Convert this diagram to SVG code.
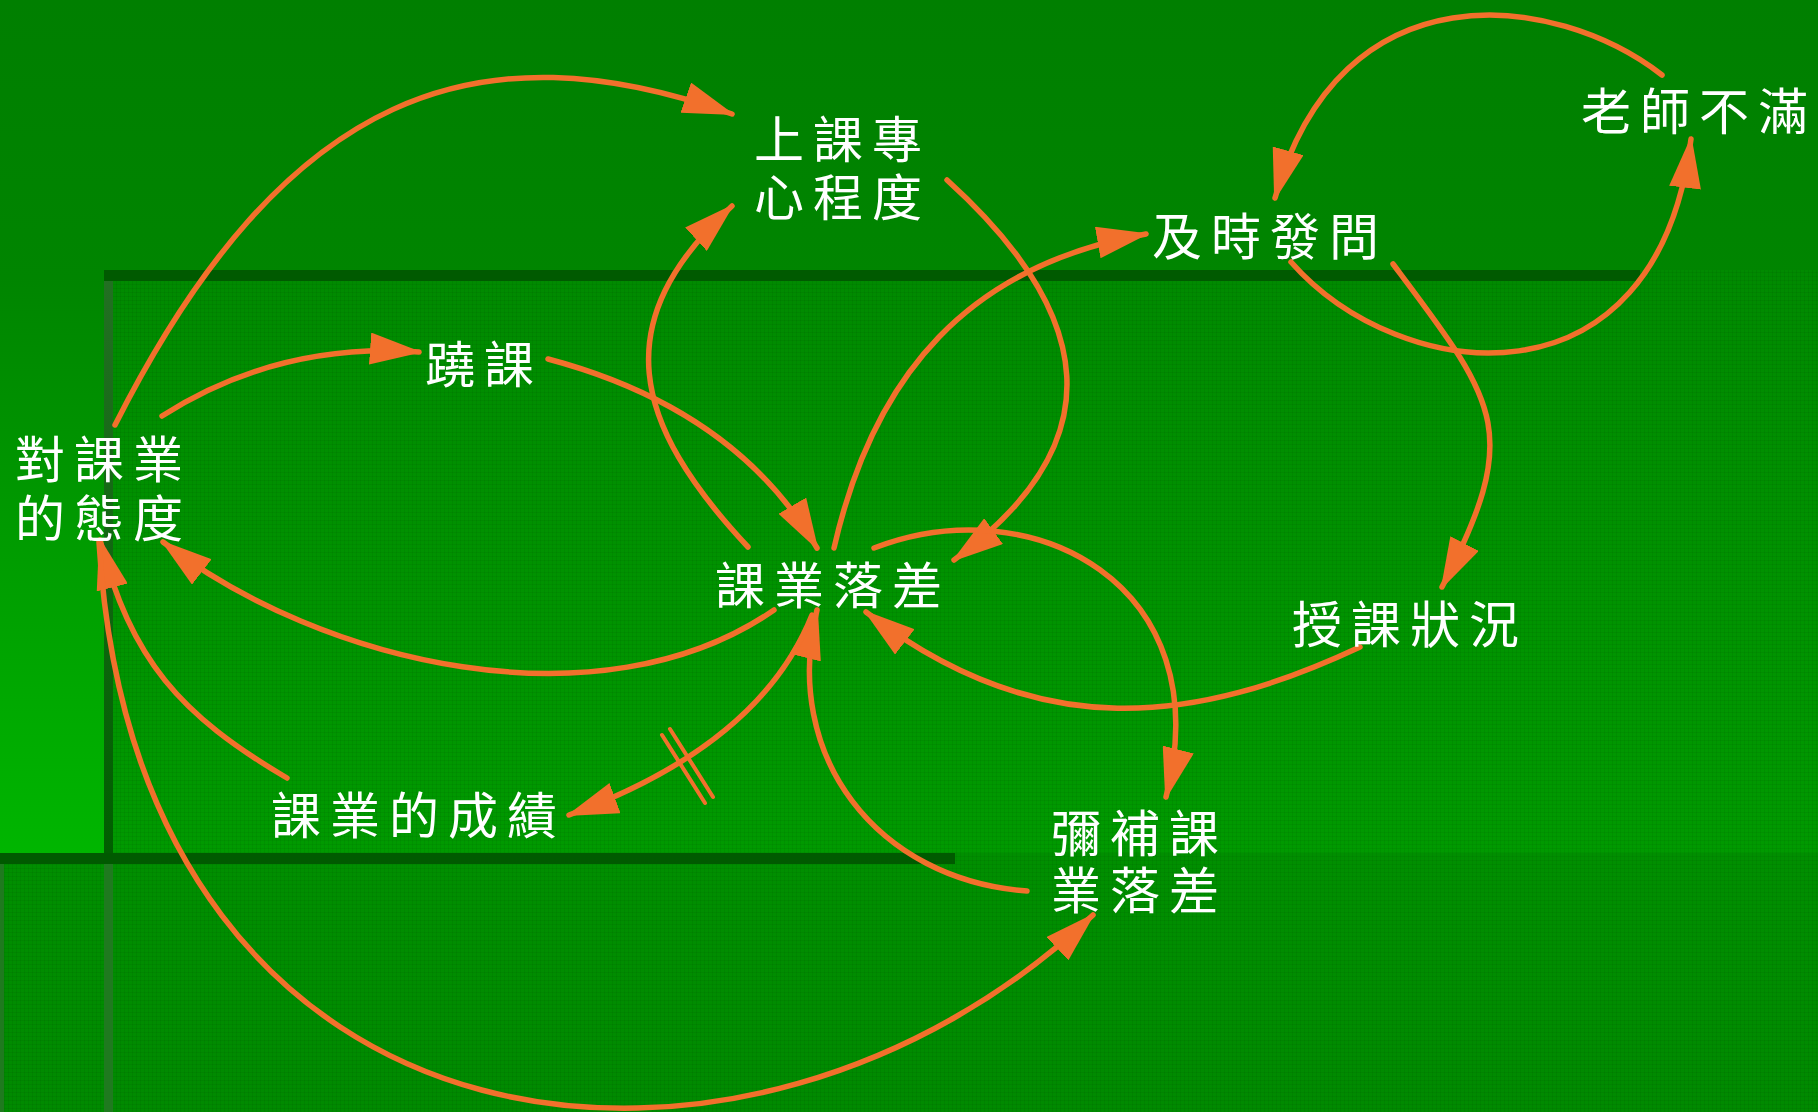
<svg xmlns="http://www.w3.org/2000/svg" width="1818" height="1112" viewBox="0 0 1818 1112">
  <style>
    .lbl { font-family: "Noto Sans CJK TC", "Noto Sans CJK SC", sans-serif; font-size: 50px; fill: #ffffff; letter-spacing: 9px; dominant-baseline: central; }
    .arc { fill: none; stroke: #F2702C; stroke-width: 5.5; stroke-linecap: round; marker-end: url(#ah); }
    .tick { fill: none; stroke: #F2702C; stroke-width: 4; stroke-linecap: round; }
  </style>
  <defs>
    <linearGradient id="bgG" x1="0" y1="0" x2="0" y2="1">
      <stop offset="0" stop-color="#007f00"/>
      <stop offset="0.25" stop-color="#008500"/>
      <stop offset="0.77" stop-color="#00b600"/>
      <stop offset="1" stop-color="#00b600"/>
    </linearGradient>
    <linearGradient id="p1G" x1="0" y1="0" x2="0" y2="1">
      <stop offset="0" stop-color="#008a00"/>
      <stop offset="1" stop-color="#009a00"/>
    </linearGradient>
    <linearGradient id="p2G" x1="0" y1="0" x2="0" y2="1">
      <stop offset="0" stop-color="#008f00"/>
      <stop offset="1" stop-color="#008a00"/>
    </linearGradient>
    <linearGradient id="edgeG" x1="0" y1="0" x2="0" y2="1">
      <stop offset="0" stop-color="#237023"/>
      <stop offset="1" stop-color="#005e00"/>
    </linearGradient>
    <pattern id="tex" width="4" height="4" patternUnits="userSpaceOnUse">
      <rect x="0" y="0" width="4" height="1" fill="#000" fill-opacity="0.05"/>
      <rect x="0" y="0" width="1" height="4" fill="#000" fill-opacity="0.05"/>
    </pattern>
    <marker id="ah" markerUnits="userSpaceOnUse" markerWidth="52" markerHeight="32" viewBox="0 0 52 32" refX="49" refY="16" orient="auto">
      <path d="M0,0 L52,16 L0,32 z" fill="#F2702C"/>
    </marker>
  </defs>

  <g id="background">
    <rect x="0" y="0" width="1818" height="1112" fill="url(#bgG)"/>
    <rect x="104" y="270" width="1714" height="594" fill="url(#p1G)"/>
    <rect x="104" y="270" width="1714" height="594" fill="url(#tex)"/>
    <rect x="0" y="853" width="1818" height="259" fill="url(#p2G)"/>
    <rect x="0" y="853" width="1818" height="259" fill="url(#tex)"/>
    <rect x="104" y="270" width="9" height="583" fill="url(#edgeG)"/>
    <rect x="104" y="864" width="9" height="248" fill="#1f7a1f"/>
    <rect x="0" y="864" width="4" height="248" fill="#1f7a1f"/>
    <rect x="104" y="270" width="1536" height="11" fill="#005a00"/>
    <rect x="0" y="853" width="955" height="11" fill="#005a00"/>
  </g>

  <g id="connectors">
    <path id="c-attitude-focus" class="arc" d="M115,425 C286,87 480,25 732,114"/>
    <path id="c-attitude-skip" class="arc" d="M162,416 Q278,342 419,352"/>
    <path id="c-skip-gap" class="arc" d="M548,359 Q736,409 817,548"/>
    <path id="c-gap-focus" class="arc" d="M748,547 C632,423 606,322 732,206"/>
    <path id="c-focus-gap" class="arc" d="M947,180 C1095,314 1116,442 954,560"/>
    <path id="c-gap-ask" class="arc" d="M834,548 C874,373 970,265 1146,234"/>
    <path id="c-ask-teacher" class="arc" d="M1291,262 C1400,386 1657,416 1691,139"/>
    <path id="c-teacher-ask" class="arc" d="M1662,75 C1555,-8 1340,-35 1275,198"/>
    <path id="c-ask-teaching" class="arc" d="M1393,264 C1498,404 1523,431 1442,587"/>
    <path id="c-teaching-gap" class="arc" d="M1360,647 C1198,723 1040,746 866,612"/>
    <path id="c-gap-attitude" class="arc" d="M774,610 C600,730 321,664 163,542"/>
    <path id="c-grade-attitude" class="arc" d="M287,778 C180,715 131,660 100,540"/>
    <path id="c-attitude-remedy" class="arc" d="M99,542 C137,1182 750,1239 1093,915"/>
    <path id="c-remedy-gap" class="arc" d="M1027,891 C877,880 781,756 817,610"/>
    <path id="c-gap-remedy" class="arc" d="M874,548 C1032,487 1221,584 1166,797"/>
    <path id="c-gap-grade" class="arc" d="M812,615 Q760,745 569,815"/>
    <g id="delay-mark">
      <line class="tick" x1="662" y1="735" x2="705" y2="803"/>
      <line class="tick" x1="670" y1="729" x2="713" y2="797"/>
    </g>
  </g>

  <g id="node-focus"><text class="lbl"><tspan x="754" y="136">上課專</tspan><tspan x="754" y="194">心程度</tspan></text></g>
  <g id="node-ask"><text class="lbl" x="1152" y="233">及時發問</text></g>
  <g id="node-teacher"><text class="lbl" x="1581" y="108">老師不滿</text></g>
  <g id="node-skip"><text class="lbl" x="425" y="361">蹺課</text></g>
  <g id="node-attitude"><text class="lbl"><tspan x="15" y="456">對課業</tspan><tspan x="15" y="515">的態度</tspan></text></g>
  <g id="node-gap"><text class="lbl" x="715" y="582">課業落差</text></g>
  <g id="node-teaching"><text class="lbl" x="1292" y="621">授課狀況</text></g>
  <g id="node-remedy"><text class="lbl"><tspan x="1051" y="830">彌補課</tspan><tspan x="1051" y="887">業落差</tspan></text></g>
  <g id="node-grade"><text class="lbl" x="271" y="812">課業的成績</text></g>
</svg>
